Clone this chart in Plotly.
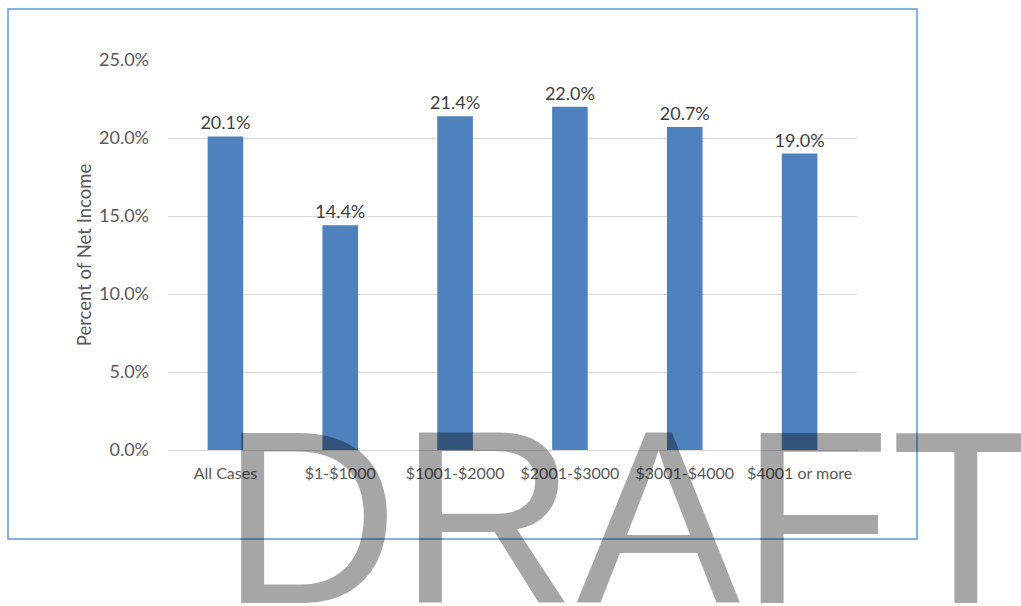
import plotly.graph_objects as go

# income bands and the share of net income
categories = ['All Cases', '$1-$1000', '$1001-$2000', '$2001-$3000', '$3001-$4000', '$4001 or more']
percent_of_income = [20.1, 14.4, 21.4, 22.0, 20.7, 19.0]
y_ticks = [0, 5, 10, 15, 20, 25]
y_tick_labels = ['0.0%', '5.0%', '10.0%', '15.0%', '20.0%', '25.0%']

W, H = 1021, 606
L, R, T, B = 168, 164, 60, 156
pw, ph = W - L - R, H - T - B

def px_x(x):
    return (x - L) / pw

def px_y(y):
    return (H - B - y) / ph

fig = go.Figure(go.Bar(
    x=categories,
    y=percent_of_income,
    width=0.31,
    marker=dict(color='#4F81BD', line=dict(width=0)),
    text=[f'{v:.1f}%' for v in percent_of_income],
    textposition='outside',
    constraintext='none',
    textfont=dict(size=18, color='#404040'),
    cliponaxis=False,
))

# chart border
fig.add_shape(type='rect', xref='paper', yref='paper',
              x0=px_x(8), x1=px_x(917), y0=px_y(539), y1=px_y(9),
              line=dict(color='#5B9BD5', width=1.5), layer='below')

# watermark
fig.add_annotation(text='DRAFT', xref='paper', yref='paper',
                   x=px_x(219), y=px_y(657), xanchor='left', yanchor='bottom',
                   showarrow=False,
                   font=dict(family='Liberation Sans, Arial', size=246, color='rgba(0,0,0,0.35)'))

fig.update_layout(
    width=W, height=H,
    margin=dict(l=L, r=R, t=T, b=B),
    paper_bgcolor='white', plot_bgcolor='white',
    font=dict(family='Lato, Noto Sans, sans-serif', color='#595959'),
    showlegend=False,
    bargap=0.69,
    xaxis=dict(showgrid=False, showline=True, linecolor='#D9D9D9', linewidth=1,
               ticks='', tickfont=dict(size=16), ticklabelstandoff=9),
    yaxis=dict(range=[0, 25], tickvals=y_ticks, ticktext=y_tick_labels,
               showgrid=True, gridcolor='#D9D9D9', gridwidth=1, zeroline=False,
               showline=False, ticks='', tickfont=dict(size=18), ticklabelstandoff=18,
               title=dict(text='Percent of Net Income', font=dict(size=18.5), standoff=2)),
)

fig.write_html('out.html', config={'displayModeBar': False},
               post_script="document.body.style.margin='0px';")
